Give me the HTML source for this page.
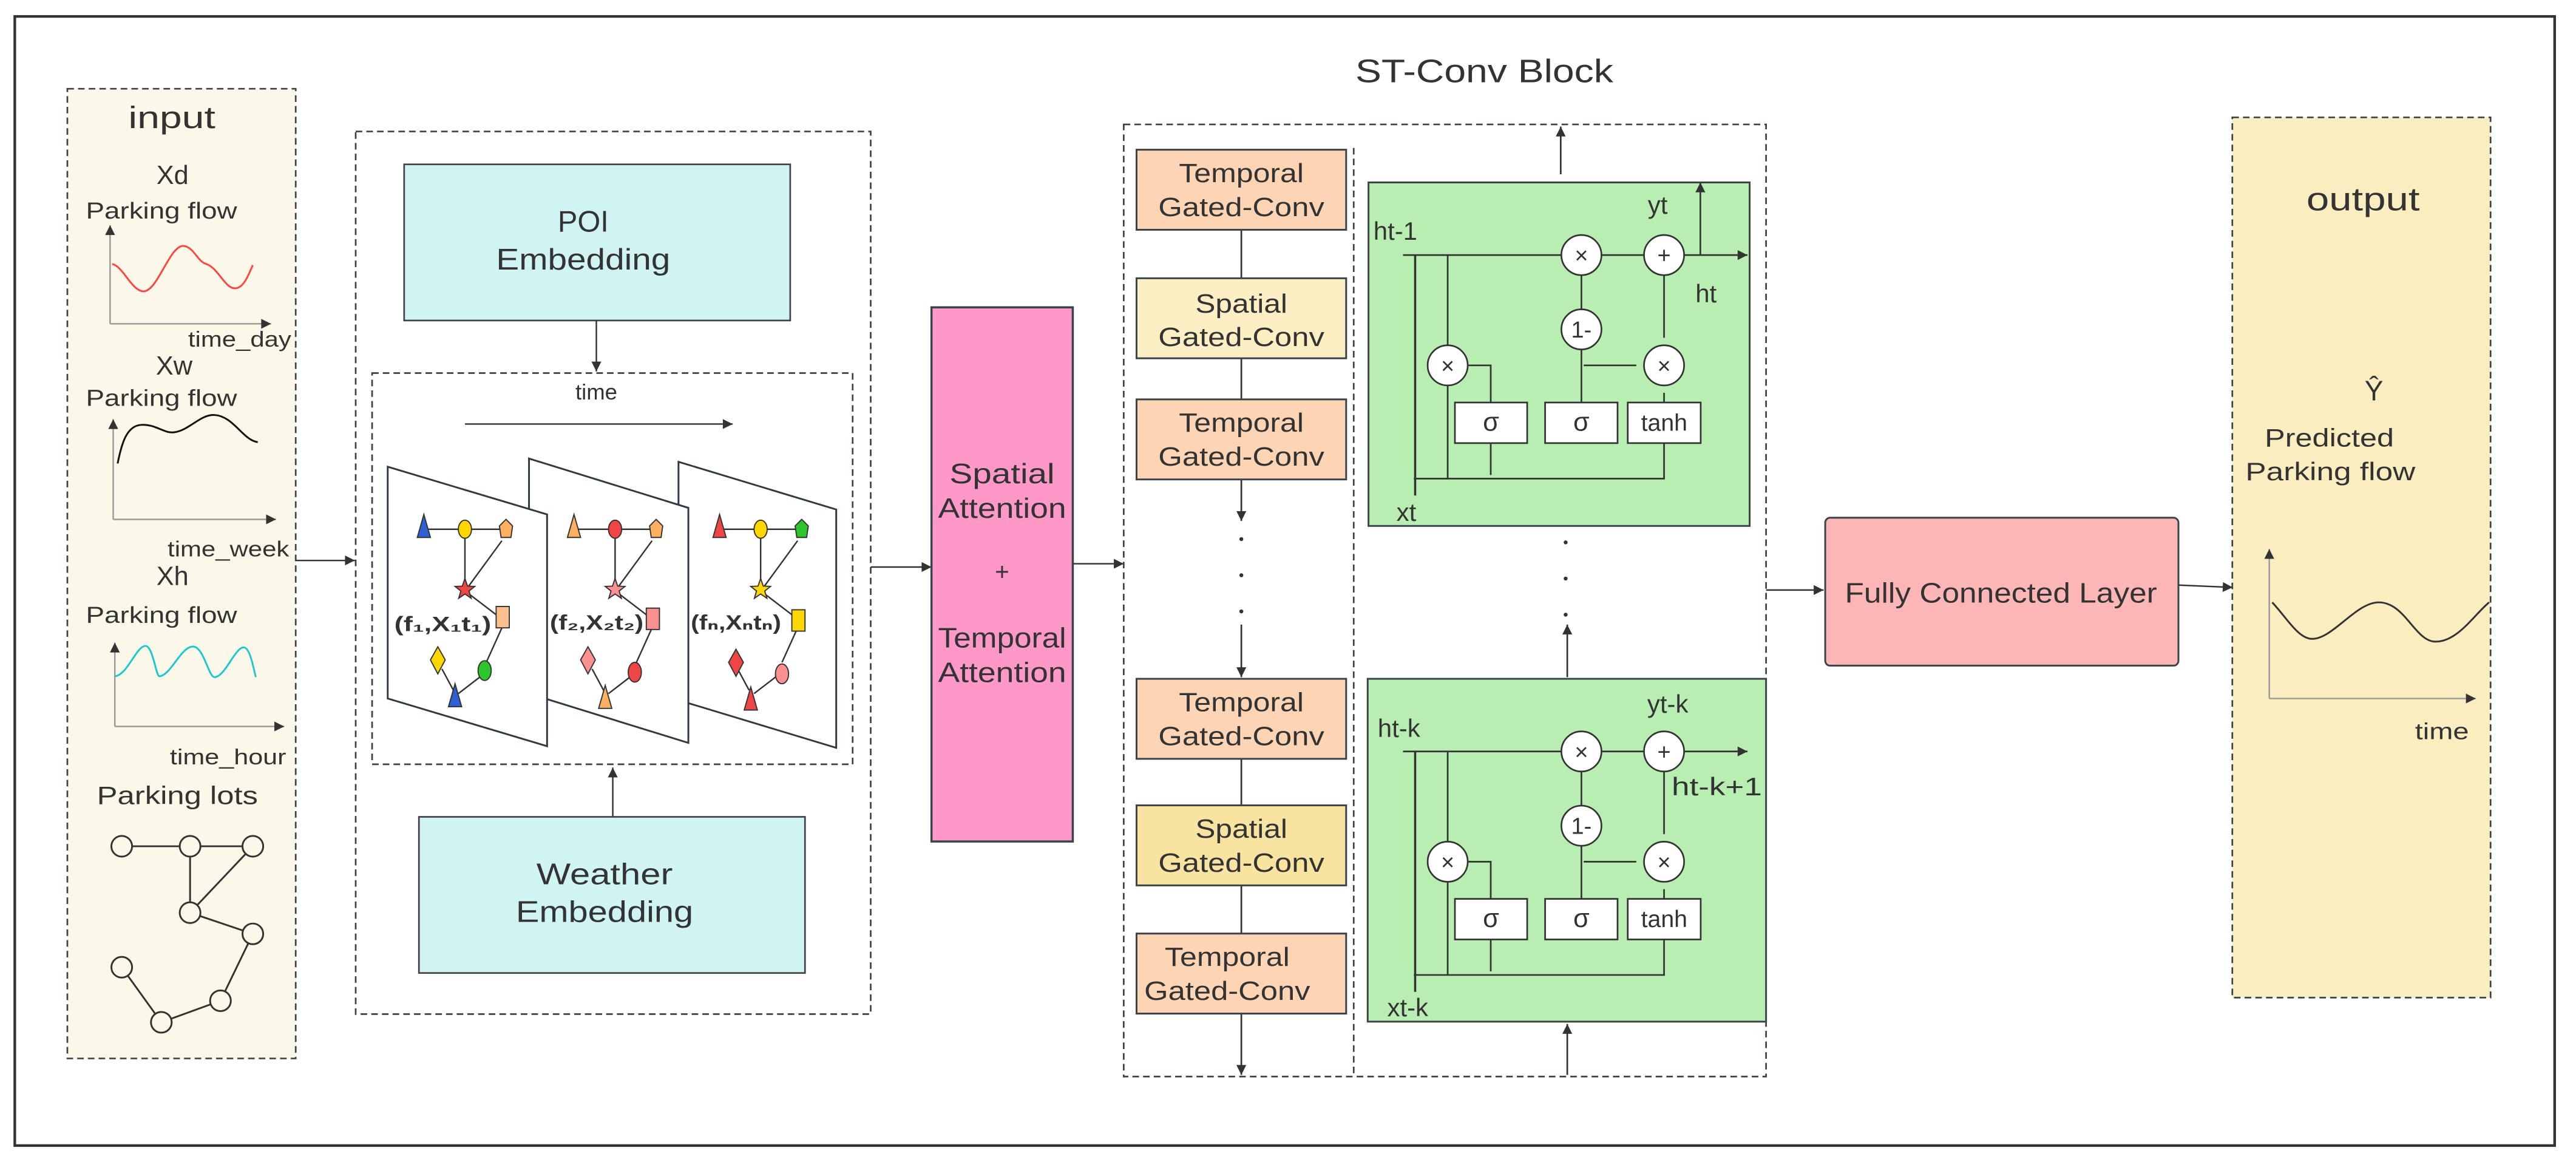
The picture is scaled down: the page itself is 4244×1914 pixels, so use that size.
<!DOCTYPE html>
<html><head><meta charset="utf-8"><style>
html,body{margin:0;padding:0;background:#fff;}
svg{display:block;}
text{font-family:"Liberation Sans","DejaVu Sans",sans-serif;fill:#333;}
</style></head><body>
<svg width="4244" height="1914" viewBox="0 0 1568 707" preserveAspectRatio="none" xmlns="http://www.w3.org/2000/svg">
<defs>
<marker id="ah" viewBox="0 0 10 10" refX="10" refY="5" markerWidth="9" markerHeight="6" markerUnits="userSpaceOnUse" orient="auto"><path d="M0,0L10,5L0,10z" fill="#333"/></marker>
</defs>
<rect width="1568" height="707" fill="#fff"/>
<rect x="9" y="10" width="1546" height="687" fill="none" stroke="#333" stroke-width="1.6"/>

<!-- INPUT -->
<rect x="41" y="54" width="139" height="590" fill="#fbf8ea" stroke="#3a4348" stroke-width="1" stroke-dasharray="4,2.5"/>
<text x="104.6" y="78" font-size="19" text-anchor="middle" textLength="53" lengthAdjust="spacingAndGlyphs">input</text>
<text x="105" y="112" font-size="16" text-anchor="middle">Xd</text>
<text x="52.3" y="133" font-size="14" textLength="92" lengthAdjust="spacingAndGlyphs">Parking flow</text>
<g stroke="#999" stroke-width="0.9" fill="none">
<line x1="67" y1="197" x2="67" y2="137" marker-end="url(#ah)"/>
<line x1="67" y1="197" x2="165" y2="197" marker-end="url(#ah)"/>
<line x1="68.9" y1="316" x2="68.9" y2="255" marker-end="url(#ah)"/>
<line x1="68.9" y1="316" x2="168" y2="316" marker-end="url(#ah)"/>
<line x1="69.9" y1="442" x2="69.9" y2="391" marker-end="url(#ah)"/>
<line x1="69.9" y1="442" x2="173" y2="442" marker-end="url(#ah)"/>
</g>
<path d="M68.3,160.6 C75,162 80,177 87.4,177.3 C96,177 103,150 111.4,149.6 C118,150 120,159 125.5,160.6 C133,163 137,176 143.4,175.4 C149,175 152,165 153.9,161.3" fill="none" stroke="#f44" stroke-width="1.1"/>
<text x="114.5" y="211" font-size="13.5" textLength="62.8" lengthAdjust="spacingAndGlyphs">time_day</text>
<text x="106" y="228" font-size="16" text-anchor="middle">Xw</text>
<text x="52.3" y="247" font-size="14" textLength="92" lengthAdjust="spacingAndGlyphs">Parking flow</text>
<path d="M71.6,282 C74,270 77,259 86,258.5 C95,258 100,264 106,263 C115,262 122,252 130.5,252.5 C142,253 148,268 156.9,269" fill="none" stroke="#111" stroke-width="1.1"/>
<text x="102" y="338.6" font-size="13.5" textLength="74" lengthAdjust="spacingAndGlyphs">time_week</text>
<text x="105" y="355.9" font-size="16" text-anchor="middle">Xh</text>
<text x="52.3" y="378.9" font-size="14" textLength="92" lengthAdjust="spacingAndGlyphs">Parking flow</text>
<path d="M70.1,411.5 C78,410 83,393 88.6,393 C93,393 95,411.5 97,411.5 C104,411 110,393.4 117.5,393.4 C124,393.4 127,412 130.5,412 C137,412 143,393.9 148.3,393.9 C152,393.9 154,405 155.7,412" fill="none" stroke="#1cc8d0" stroke-width="1.1"/>
<text x="103.4" y="465" font-size="13.5" textLength="70.8" lengthAdjust="spacingAndGlyphs">time_hour</text>
<text x="59" y="489.3" font-size="15.5" textLength="98" lengthAdjust="spacingAndGlyphs">Parking lots</text>
<g stroke="#333" stroke-width="1.1" fill="none">
<line x1="74.1" y1="514.9" x2="153.9" y2="514.9"/>
<line x1="115.7" y1="514.9" x2="115.7" y2="555.3"/>
<line x1="153.9" y1="514.9" x2="115.7" y2="555.3"/>
<line x1="115.7" y1="555.3" x2="153.9" y2="568.2"/>
<line x1="153.9" y1="568.2" x2="134.2" y2="608.9"/>
<line x1="134.2" y1="608.9" x2="98.2" y2="622"/>
<line x1="98.2" y1="622" x2="74.1" y2="588.5"/>
</g>
<g stroke="#333" stroke-width="1.1" fill="#fbf8ea">
<circle cx="74.1" cy="514.9" r="6.3"/><circle cx="115.7" cy="514.9" r="6.3"/><circle cx="153.9" cy="514.9" r="6.3"/>
<circle cx="115.7" cy="555.3" r="6.3"/><circle cx="153.9" cy="568.2" r="6.3"/><circle cx="74.1" cy="588.5" r="6.3"/>
<circle cx="134.2" cy="608.9" r="6.3"/><circle cx="98.2" cy="622" r="6.3"/>
</g>

<line x1="180" y1="341" x2="216" y2="341" stroke="#333" stroke-width="0.9" marker-end="url(#ah)"/>

<!-- EMBEDDING BLOCK -->
<rect x="216.5" y="80" width="313.5" height="537" fill="#fff" stroke="#3a4348" stroke-width="1" stroke-dasharray="4,2.5"/>
<rect x="246" y="100" width="235" height="95" fill="#d0f4f4" stroke="#444" stroke-width="1"/>
<text x="355" y="141" font-size="18" text-anchor="middle">POI</text>
<text x="355" y="164" font-size="18" text-anchor="middle" textLength="106" lengthAdjust="spacingAndGlyphs">Embedding</text>
<line x1="363" y1="195" x2="363" y2="226" stroke="#333" stroke-width="0.9" marker-end="url(#ah)"/>
<rect x="226.5" y="227" width="292.5" height="238" fill="#fff" stroke="#3a4348" stroke-width="1" stroke-dasharray="4,2.5"/>
<text x="363" y="243" font-size="13.5" text-anchor="middle">time</text>
<line x1="283" y1="258" x2="446" y2="258" stroke="#333" stroke-width="0.9" marker-end="url(#ah)"/>

<g stroke="#2f3a42" stroke-width="1.1" fill="#fff">
<polygon points="413,281 509,310 509,455 413,426"/>
<polygon points="322,279 419,309 419,452 322,422"/>
<polygon points="236,284 333,313 333,454 236,425"/>
</g>

<!-- graph panels -->
<g id="p1">
<g stroke="#333" stroke-width="0.9" fill="none">
<line x1="258" y1="322" x2="308" y2="322"/>
<line x1="283" y1="322" x2="283" y2="357"/>
<line x1="305.5" y1="329" x2="285" y2="357"/>
<line x1="285" y1="361" x2="302" y2="374"/>
<line x1="305.5" y1="382" x2="296" y2="403"/>
<line x1="292" y1="412" x2="279" y2="422"/>
<line x1="269" y1="407" x2="276" y2="420"/>
</g>
</g>
<g transform="translate(91.4,0)">
<g stroke="#333" stroke-width="0.9" fill="none">
<line x1="258" y1="322" x2="308" y2="322"/>
<line x1="283" y1="322" x2="283" y2="357"/>
<line x1="305.5" y1="329" x2="285" y2="357"/>
<line x1="285" y1="361" x2="302" y2="374"/>
<line x1="305.5" y1="382" x2="296" y2="403"/>
<line x1="292" y1="412" x2="279" y2="422"/>
<line x1="269" y1="407" x2="276" y2="420"/>
</g></g>
<g transform="translate(180,0)">
<g stroke="#333" stroke-width="0.9" fill="none">
<line x1="258" y1="322" x2="308" y2="322"/>
<line x1="283" y1="322" x2="283" y2="357"/>
<line x1="305.5" y1="329" x2="285" y2="357"/>
<line x1="285" y1="361" x2="302" y2="374"/>
<line x1="305.5" y1="382" x2="296" y2="403"/>
<line x1="292" y1="412" x2="279" y2="422"/>
<line x1="269" y1="407" x2="276" y2="420"/>
</g></g>

<g stroke="#333" stroke-width="0.7">
<!-- panel 1 -->
<polygon points="258,313 262,327 254,327" fill="#2f5fd0"/>
<ellipse cx="283" cy="322" rx="4" ry="5.5" fill="#ffd700"/>
<polygon points="308,316 312,320 311,327 305,327 304,320" fill="#fdb060"/>
<polygon points="283,352 284.6,356.6 289,356.8 285.5,359.6 286.8,364 283,361.4 279.2,364 280.5,359.6 277,356.8 281.4,356.6" fill="#f04545"/>
<rect x="302" y="369" width="8" height="13" fill="#fdc090"/>
<polygon points="266.5,393.5 271,401.5 266.5,410 262,401.5" fill="#ffd700"/>
<ellipse cx="295" cy="408" rx="4" ry="6" fill="#2dc52d"/>
<polygon points="277,416 281,430 273,430" fill="#2f5fd0"/>
<!-- panel 2 -->
<polygon points="349.4,313 353.4,327 345.4,327" fill="#fdb060"/>
<ellipse cx="374.4" cy="322" rx="4" ry="5.5" fill="#f04545"/>
<polygon points="399.4,316 403.4,320 402.4,327 396.4,327 395.4,320" fill="#fdb060"/>
<polygon points="374.4,352 376,356.6 380.4,356.8 376.9,359.6 378.2,364 374.4,361.4 370.6,364 371.9,359.6 368.4,356.8 372.8,356.6" fill="#fa9090"/>
<rect x="393.4" y="370" width="8" height="13" fill="#fa9090"/>
<polygon points="357.9,393.5 362.4,401.5 357.9,410 353.4,401.5" fill="#fa9090"/>
<ellipse cx="386.4" cy="409" rx="4" ry="6" fill="#f04545"/>
<polygon points="368.4,417 372.4,431 364.4,431" fill="#fdb060"/>
<!-- panel 3 -->
<polygon points="438,313 442,327 434,327" fill="#f04545"/>
<ellipse cx="463" cy="322" rx="4" ry="5.5" fill="#ffd700"/>
<polygon points="488,316 492,320 491,327 485,327 484,320" fill="#2dc52d"/>
<polygon points="463,352 464.6,356.6 469,356.8 465.5,359.6 466.8,364 463,361.4 459.2,364 460.5,359.6 457,356.8 461.4,356.6" fill="#ffd700"/>
<rect x="482" y="371" width="8" height="13" fill="#ffd700"/>
<polygon points="448,395 452.5,403 448,411.5 443.5,403" fill="#f04545"/>
<ellipse cx="476" cy="410" rx="4" ry="6" fill="#fa9090"/>
<polygon points="457,418 461,432 453,432" fill="#f04545"/>
</g>
<text x="240" y="384" font-size="12.5" font-weight="bold" textLength="59" lengthAdjust="spacingAndGlyphs">(f₁,X₁t₁)</text>
<text x="334.7" y="383" font-size="12.5" font-weight="bold" textLength="57" lengthAdjust="spacingAndGlyphs">(f₂,X₂t₂)</text>
<text x="420.5" y="383" font-size="12.5" font-weight="bold" textLength="55" lengthAdjust="spacingAndGlyphs">(fₙ,Xₙtₙ)</text>

<line x1="373" y1="497" x2="373" y2="467" stroke="#333" stroke-width="0.9" marker-end="url(#ah)"/>
<rect x="255" y="497" width="235" height="95" fill="#d0f4f4" stroke="#444" stroke-width="1"/>
<text x="368" y="538" font-size="18" text-anchor="middle" textLength="83" lengthAdjust="spacingAndGlyphs">Weather</text>
<text x="368" y="561" font-size="18" text-anchor="middle" textLength="108" lengthAdjust="spacingAndGlyphs">Embedding</text>

<line x1="530" y1="345" x2="567" y2="345" stroke="#333" stroke-width="0.9" marker-end="url(#ah)"/>

<!-- ATTENTION -->
<rect x="567" y="187" width="86" height="325" fill="#fd98c8" stroke="#3a4348" stroke-width="1.3"/>
<text x="610" y="294" font-size="17" text-anchor="middle" textLength="64" lengthAdjust="spacingAndGlyphs">Spatial</text>
<text x="610" y="315" font-size="17" text-anchor="middle" textLength="78" lengthAdjust="spacingAndGlyphs">Attention</text>
<text x="610" y="353" font-size="15" text-anchor="middle">+</text>
<text x="610" y="394" font-size="17" text-anchor="middle" textLength="78" lengthAdjust="spacingAndGlyphs">Temporal</text>
<text x="610" y="415" font-size="17" text-anchor="middle" textLength="78" lengthAdjust="spacingAndGlyphs">Attention</text>

<line x1="653" y1="343" x2="684" y2="343" stroke="#333" stroke-width="0.9" marker-end="url(#ah)"/>

<!-- ST-CONV -->
<text x="825" y="50" font-size="20" textLength="157" lengthAdjust="spacingAndGlyphs">ST-Conv  Block</text>
<rect x="684" y="75.7" width="391" height="579.3" fill="#fff" stroke="#3a4348" stroke-width="1" stroke-dasharray="4,2.5"/>
<line x1="824" y1="90" x2="824" y2="655" stroke="#3a4348" stroke-width="1" stroke-dasharray="4,2.5"/>

<g stroke="#333" stroke-width="1" fill="none">
<line x1="755.6" y1="139.8" x2="755.6" y2="169.3"/>
<line x1="755.6" y1="218" x2="755.6" y2="243"/>
<line x1="755.6" y1="291" x2="755.6" y2="317" marker-end="url(#ah)"/>
<line x1="755.6" y1="380" x2="755.6" y2="412" marker-end="url(#ah)"/>
<line x1="755.6" y1="461" x2="755.6" y2="490"/>
<line x1="755.6" y1="539" x2="755.6" y2="568"/>
<line x1="755.6" y1="617" x2="755.6" y2="654" marker-end="url(#ah)"/>
</g>
<g fill="#333"><circle cx="755.6" cy="328" r="1.2"/><circle cx="755.6" cy="350" r="1.2"/><circle cx="755.6" cy="372" r="1.2"/>
<circle cx="953" cy="330" r="1.2"/><circle cx="953" cy="352" r="1.2"/><circle cx="953" cy="374" r="1.2"/></g>

<g stroke="#3a4348" stroke-width="1.1">
<rect x="691.8" y="91.1" width="127.6" height="48.7" fill="#fdd5b5"/>
<rect x="691.8" y="169.3" width="127.6" height="48.7" fill="#fbefc3"/>
<rect x="691.8" y="243" width="127.6" height="48.7" fill="#fdd5b5"/>
<rect x="691.8" y="413" width="127.6" height="48.7" fill="#fdd5b5"/>
<rect x="691.8" y="490" width="127.6" height="48.7" fill="#f8e3a0"/>
<rect x="691.8" y="568" width="127.6" height="48.7" fill="#fdd5b5"/>
</g>
<g font-size="16" text-anchor="middle">
<text x="755.6" y="110.8" textLength="76" lengthAdjust="spacingAndGlyphs">Temporal</text>
<text x="755.6" y="131.5" textLength="101" lengthAdjust="spacingAndGlyphs">Gated-Conv</text>
<text x="755.6" y="190.2" textLength="56" lengthAdjust="spacingAndGlyphs">Spatial</text>
<text x="755.6" y="210.6" textLength="101" lengthAdjust="spacingAndGlyphs">Gated-Conv</text>
<text x="755.6" y="262.7" textLength="76" lengthAdjust="spacingAndGlyphs">Temporal</text>
<text x="755.6" y="283.4" textLength="101" lengthAdjust="spacingAndGlyphs">Gated-Conv</text>
<text x="755.6" y="432.7" textLength="76" lengthAdjust="spacingAndGlyphs">Temporal</text>
<text x="755.6" y="453.4" textLength="101" lengthAdjust="spacingAndGlyphs">Gated-Conv</text>
<text x="755.6" y="509.7" textLength="56" lengthAdjust="spacingAndGlyphs">Spatial</text>
<text x="755.6" y="530.4" textLength="101" lengthAdjust="spacingAndGlyphs">Gated-Conv</text>
<text x="747" y="587.7" textLength="76" lengthAdjust="spacingAndGlyphs">Temporal</text>
<text x="747" y="608.4" textLength="101" lengthAdjust="spacingAndGlyphs">Gated-Conv</text>
</g>

<!-- green cells -->
<line x1="950" y1="106" x2="950" y2="77" stroke="#333" stroke-width="1" marker-end="url(#ah)"/>
<rect x="833" y="111" width="232" height="209" fill="#b9eeb3" stroke="#3a4348" stroke-width="1.1"/>
<line x1="954" y1="412" x2="954" y2="380" stroke="#333" stroke-width="1" marker-end="url(#ah)"/>
<rect x="832.5" y="413" width="242.5" height="208.6" fill="#b9eeb3" stroke="#3a4348" stroke-width="1.1"/>
<line x1="954" y1="654" x2="954" y2="623" stroke="#333" stroke-width="1" marker-end="url(#ah)"/>

<g id="cell2">
<g stroke="#333" stroke-width="1" fill="none">
<line x1="854" y1="457.2" x2="1063.7" y2="457.2" marker-end="url(#ah)"/>
<line x1="861.4" y1="457.2" x2="861.4" y2="603.5" stroke-width="1.3"/>
<line x1="881.2" y1="457.2" x2="881.2" y2="593.2"/>
<line x1="860.6" y1="593.2" x2="1013.4" y2="593.2"/>
<polyline points="893.9,524.3 907.4,524.3 907.4,547"/>
<line x1="907.4" y1="571.6" x2="907.4" y2="591"/>
<line x1="962.6" y1="457.2" x2="962.6" y2="547"/>
<line x1="964" y1="524.3" x2="996" y2="524.3"/>
<line x1="1012.9" y1="457.2" x2="1012.9" y2="507.5"/>
<line x1="1012.9" y1="541" x2="1012.9" y2="547"/>
<line x1="1012.9" y1="571.6" x2="1012.9" y2="593.2"/>
</g>
<g stroke="#333" stroke-width="1" fill="#fff">
<circle cx="962.6" cy="457.2" r="12.2"/>
<circle cx="1012.9" cy="457.2" r="12.2"/>
<circle cx="962.6" cy="502.4" r="12.2"/>
<circle cx="881.2" cy="524.3" r="12.2"/>
<circle cx="1012.9" cy="524.3" r="12.2"/>
<rect x="885.6" y="546.9" width="44" height="24.7"/>
<rect x="940.5" y="546.9" width="44.1" height="24.7"/>
<rect x="990.8" y="546.9" width="44.4" height="24.7"/>
</g>
<g font-size="14" text-anchor="middle">
<text x="962.6" y="462.2">×</text>
<text x="1012.9" y="462.2">+</text>
<text x="962.6" y="507.4" font-size="14">1-</text>
<text x="881.2" y="529.3">×</text>
<text x="1012.9" y="529.3">×</text>
<text x="907.6" y="564" font-size="16">σ</text>
<text x="962.6" y="564" font-size="16">σ</text>
<text x="1013" y="564" font-size="14.5">tanh</text>
</g>
</g>
<g transform="translate(0,-302)">
<g stroke="#333" stroke-width="1" fill="none">
<line x1="854" y1="457.2" x2="1063.7" y2="457.2" marker-end="url(#ah)"/>
<line x1="861.4" y1="457.2" x2="861.4" y2="603.5" stroke-width="1.3"/>
<line x1="881.2" y1="457.2" x2="881.2" y2="593.2"/>
<line x1="860.6" y1="593.2" x2="1013.4" y2="593.2"/>
<polyline points="893.9,524.3 907.4,524.3 907.4,547"/>
<line x1="907.4" y1="571.6" x2="907.4" y2="591"/>
<line x1="962.6" y1="457.2" x2="962.6" y2="547"/>
<line x1="964" y1="524.3" x2="996" y2="524.3"/>
<line x1="1012.9" y1="457.2" x2="1012.9" y2="507.5"/>
<line x1="1012.9" y1="541" x2="1012.9" y2="547"/>
<line x1="1012.9" y1="571.6" x2="1012.9" y2="593.2"/>
<line x1="1035" y1="457.2" x2="1035" y2="413" marker-end="url(#ah)"/>
</g>
<g stroke="#333" stroke-width="1" fill="#fff">
<circle cx="962.6" cy="457.2" r="12.2"/>
<circle cx="1012.9" cy="457.2" r="12.2"/>
<circle cx="962.6" cy="502.4" r="12.2"/>
<circle cx="881.2" cy="524.3" r="12.2"/>
<circle cx="1012.9" cy="524.3" r="12.2"/>
<rect x="885.6" y="546.9" width="44" height="24.7"/>
<rect x="940.5" y="546.9" width="44.1" height="24.7"/>
<rect x="990.8" y="546.9" width="44.4" height="24.7"/>
</g>
<g font-size="14" text-anchor="middle">
<text x="962.6" y="462.2">×</text>
<text x="1012.9" y="462.2">+</text>
<text x="962.6" y="507.4">1-</text>
<text x="881.2" y="529.3">×</text>
<text x="1012.9" y="529.3">×</text>
<text x="907.6" y="564" font-size="16">σ</text>
<text x="962.6" y="564" font-size="16">σ</text>
<text x="1013" y="564" font-size="14.5">tanh</text>
</g>
</g>
<g font-size="15.5">
<text x="836" y="146">ht-1</text>
<text x="1003" y="130">yt</text>
<text x="1032" y="184">ht</text>
<text x="850" y="317">xt</text>
<text x="838.6" y="448.5">ht-k</text>
<text x="1002.7" y="433.6">yt-k</text>
<text x="1017.5" y="483.9" textLength="55" lengthAdjust="spacingAndGlyphs">ht-k+1</text>
<text x="844.4" y="618.3">xt-k</text>
</g>

<line x1="1075" y1="359" x2="1110" y2="359" stroke="#333" stroke-width="0.9" marker-end="url(#ah)"/>
<rect x="1111" y="315" width="215" height="90" rx="3" fill="#fdb6b6" stroke="#3a4348" stroke-width="1.1"/>
<text x="1123" y="366.6" font-size="17" textLength="190" lengthAdjust="spacingAndGlyphs">Fully  Connected Layer</text>
<line x1="1326" y1="356" x2="1359" y2="357.4" stroke="#333" stroke-width="0.9" marker-end="url(#ah)"/>

<!-- OUTPUT -->
<rect x="1358.8" y="71.4" width="157.2" height="535.6" fill="#faedc0" stroke="#3a4348" stroke-width="1" stroke-dasharray="4,2.5"/>
<text x="1438.4" y="128" font-size="20" text-anchor="middle" textLength="69" lengthAdjust="spacingAndGlyphs">output</text>
<text x="1445" y="243.6" font-size="17" text-anchor="middle">Ŷ</text>
<text x="1378.5" y="271.6" font-size="15.5" textLength="78.7" lengthAdjust="spacingAndGlyphs">Predicted</text>
<text x="1366.8" y="292.2" font-size="15.5" textLength="103.4" lengthAdjust="spacingAndGlyphs">Parking flow</text>
<g stroke="#999" stroke-width="0.9" fill="none">
<line x1="1381.3" y1="425" x2="1381.3" y2="334" marker-end="url(#ah)"/>
<line x1="1381.3" y1="425" x2="1507" y2="425" marker-end="url(#ah)"/>
</g>
<path d="M1383.1,366.5 C1392,376 1399,388.7 1407.4,388.7 C1420,388.7 1434,366.5 1448,366.5 C1464,366.5 1470,390.4 1482.5,390.4 C1496,390.4 1506,374 1515.1,366.5" fill="none" stroke="#333" stroke-width="1.1"/>
<text x="1470" y="449.7" font-size="14" textLength="32.8" lengthAdjust="spacingAndGlyphs">time</text>
</svg>
</body></html>
